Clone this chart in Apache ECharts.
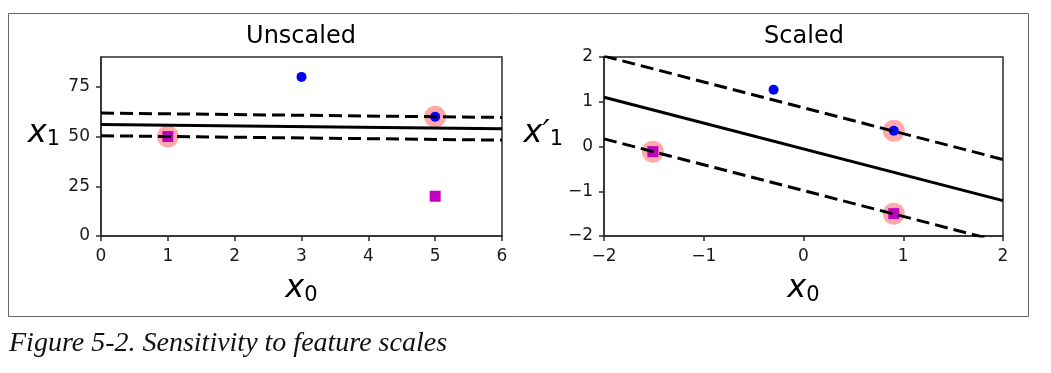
<!DOCTYPE html>
<html>
<head>
<meta charset="utf-8">
<script src="https://cdn.jsdelivr.net/npm/echarts@6/dist/echarts.min.js"></script>
<style>
html,body{margin:0;padding:0;background:#fff;}
#chart{width:1051px;height:373px;}
</style>
</head>
<body>
<div id="chart"></div>
<script>
// ---- Data ----
const panelTitles = ['Unscaled', 'Scaled'];
const captionText = 'Figure 5-2. Sensitivity to feature scales';

// Unscaled panel
const unscaledXTicks = [0, 1, 2, 3, 4, 5, 6];
const unscaledYTicks = [0, 25, 50, 75];
const unscaledBlue = [[3, 80], [5, 60]];
const unscaledMagenta = [[1, 50], [5, 20]];
const unscaledSupport = [[1, 50], [5, 60]];
const unscaledBoundary = [[0, 56.1], [6, 53.9]];
const unscaledMarginUp = [[0, 61.8], [6, 59.6]];
const unscaledMarginDown = [[0, 50.4], [6, 48.2]];

// Scaled panel
const scaledTicks = [-2, -1, 0, 1, 2];
const scaledBlue = [[-0.30, 1.27], [0.905, 0.35]];
const scaledMagenta = [[-1.51, -0.115], [0.905, -1.50]];
const scaledSupport = [[-1.51, -0.115], [0.905, 0.35], [0.905, -1.50]];
const scaledBoundary = [[-2, 1.10], [2, -1.21]];
const scaledMarginUp = [[-2, 2.02], [2, -0.29]];
const scaledMarginDown = [[-2, 0.17], [2, -2.14]];

// ---- Styling ----
const AX = '#2b2b2b';
const TICK_FONT = 'DejaVu Sans';
const TICK_SIZE = 17;
const minus = v => String(v).replace('-', '\u2212');

function axisCommon(extra) {
  return Object.assign({
    type: 'value',
    axisLine: { show: true, onZero: false, lineStyle: { color: AX, width: 1.5 } },
    splitLine: { show: false }
  }, extra);
}

const mathRich = {
  v: { fontFamily: 'DejaVu Sans', fontStyle: 'italic', fontSize: 32, color: '#000', lineHeight: 34 },
  s: { fontFamily: 'DejaVu Sans', fontSize: 21, color: '#000', lineHeight: 13, verticalAlign: 'bottom' }
};

const ptBlue = { type: 'scatter', symbol: 'circle', symbolSize: 10, itemStyle: { color: '#0000FF', opacity: 1 } };
const ptMag = { type: 'scatter', symbol: 'rect', symbolSize: 11, itemStyle: { color: '#BF00BF', opacity: 1 } };
const ptSup = { type: 'scatter', symbol: 'circle', symbolSize: 22, itemStyle: { color: '#FFAAAA', opacity: 1 } };
const solid = { type: 'line', showSymbol: false, symbol: 'none', clip: true, lineStyle: { color: '#000', width: 3 } };
const dashed = { type: 'line', showSymbol: false, symbol: 'none', clip: true, lineStyle: { color: '#000', width: 3, type: [13, 6] } };

function s(base, data, xi) {
  return Object.assign({}, base, { data: data, xAxisIndex: xi, yAxisIndex: xi, silent: true, z: base.type === 'line' ? 4 : (base.symbolSize > 15 ? 2 : 3) });
}

function lbl(margin, values, fmt) {
  return { color: '#1a1a1a', fontSize: TICK_SIZE, fontFamily: TICK_FONT, margin: margin, formatter: fmt || (v => String(v)), customValues: values };
}
function tck(values) {
  return { show: true, inside: false, length: 5, lineStyle: { color: AX, width: 1.5 }, customValues: values };
}

const option = {
  animation: false,
  backgroundColor: '#fff',
  grid: [
    { left: 101, top: 57, width: 401, height: 179, show: true, borderColor: AX, borderWidth: 1.5, backgroundColor: 'transparent' },
    { left: 604, top: 57, width: 399, height: 179, show: true, borderColor: AX, borderWidth: 1.5, backgroundColor: 'transparent' }
  ],
  xAxis: [
    axisCommon({ gridIndex: 0, min: 0, max: 6, interval: 1,
      axisLabel: lbl(12, unscaledXTicks), axisTick: tck(unscaledXTicks),
      name: '{v|x}{s|0}', nameLocation: 'middle', nameGap: 36,
      nameTextStyle: { rich: mathRich } }),
    axisCommon({ gridIndex: 1, min: -2, max: 2, interval: 1,
      axisLabel: lbl(12, scaledTicks, minus), axisTick: tck(scaledTicks),
      name: '{v|x}{s|0}', nameLocation: 'middle', nameGap: 36,
      nameTextStyle: { rich: mathRich } })
  ],
  yAxis: [
    axisCommon({ gridIndex: 0, min: 0, max: 90, interval: 25,
      axisLabel: lbl(11, unscaledYTicks), axisTick: tck(unscaledYTicks),
      name: '{v|x}{s|1}', nameLocation: 'middle', nameRotate: 0, nameGap: 41,
      nameTextStyle: { rich: mathRich, padding: [0, 0, 26, 0] } }),
    axisCommon({ gridIndex: 1, min: -2, max: 2, interval: 1,
      axisLabel: lbl(11, scaledTicks, minus), axisTick: tck(scaledTicks),
      name: '{v|x\u2032}{s|1}', nameLocation: 'middle', nameRotate: 0, nameGap: 31,
      nameTextStyle: { rich: mathRich, padding: [0, 0, 26, 0] } })
  ],
  graphic: [
    { type: 'rect', shape: { x: 8.5, y: 13.5, width: 1020, height: 303 }, style: { fill: 'none', stroke: '#666', lineWidth: 1 }, z: -1 },
    { type: 'text', x: 301, y: 37, style: { text: panelTitles[0], fontFamily: 'DejaVu Sans', fontSize: 24, fill: '#000', align: 'center', verticalAlign: 'middle' } },
    { type: 'text', x: 804, y: 37, style: { text: panelTitles[1], fontFamily: 'DejaVu Sans', fontSize: 24, fill: '#000', align: 'center', verticalAlign: 'middle' } },
    { type: 'text', x: 9, y: 344, style: { text: captionText, fontFamily: 'Liberation Serif', fontStyle: 'italic', fontSize: 28, fill: '#111', align: 'left', verticalAlign: 'middle' } }
  ],
  series: [
    s(ptSup, unscaledSupport, 0),
    s(ptBlue, unscaledBlue, 0),
    s(ptMag, unscaledMagenta, 0),
    s(solid, unscaledBoundary, 0),
    s(dashed, unscaledMarginUp, 0),
    s(dashed, unscaledMarginDown, 0),
    s(ptSup, scaledSupport, 1),
    s(ptBlue, scaledBlue, 1),
    s(ptMag, scaledMagenta, 1),
    s(solid, scaledBoundary, 1),
    s(dashed, scaledMarginUp, 1),
    s(dashed, scaledMarginDown, 1)
  ]
};

const chart = echarts.init(document.getElementById('chart'), null, { renderer: 'canvas' });
chart.setOption(option);
</script>
</body>
</html>
